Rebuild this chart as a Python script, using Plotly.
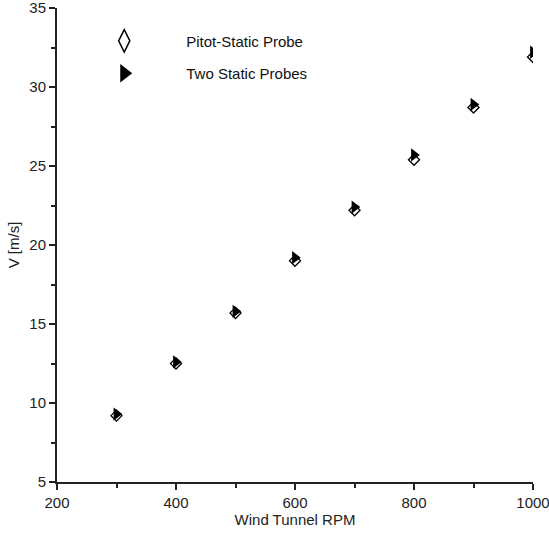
import plotly.graph_objects as go

# Wind tunnel speed calibration: velocity vs fan RPM
rpm = [300, 400, 500, 600, 700, 800, 900, 1000]
v_pitot = [9.2, 12.5, 15.7, 19.0, 22.2, 25.4, 28.7, 31.9]
v_static = [9.3, 12.6, 15.8, 19.2, 22.4, 25.7, 28.9, 32.2]

x_ticks = [200, 400, 600, 800, 1000]
y_ticks = [5, 10, 15, 20, 25, 30, 35]

font = "Liberation Sans, Arial, sans-serif"

fig = go.Figure()

fig.add_trace(go.Scatter(
    x=rpm, y=v_pitot, mode="markers", name="Pitot-Static Probe",
    marker=dict(symbol="diamond", size=8.5, color="white",
                line=dict(color="black", width=1.3)),
    showlegend=False,
))
fig.add_trace(go.Scatter(
    x=rpm, y=v_static, mode="markers", name="Two Static Probes",
    marker=dict(symbol="triangle-right", size=11.5, color="black",
                line=dict(color="black", width=0)),
    showlegend=False,
))

# legend entries with larger symbols
fig.add_trace(go.Scatter(
    x=[None], y=[None], mode="markers", name="Pitot-Static Probe",
    legendgroup="a",
    marker=dict(symbol="diamond-tall", size=16, color="white",
                line=dict(color="black", width=1.5)),
))
fig.add_trace(go.Scatter(
    x=[None], y=[None], mode="markers", name="Two Static Probes",
    legendgroup="b",
    marker=dict(symbol="triangle-right", size=16, color="black",
                line=dict(color="black", width=0)),
))

axis_common = dict(
    showline=True, linecolor="#222", linewidth=2,
    ticks="outside", ticklen=6, tickwidth=1.5, tickcolor="#222",
    showgrid=False, zeroline=False, mirror=False,
    ticklabeloverflow="allow", automargin=False,
    tickfont=dict(family=font, size=15, color="#222"),
    title_font=dict(family=font, size=15, color="#222"),
)

fig.update_xaxes(
    range=[200, 1000], tickvals=x_ticks, title_text="Wind Tunnel RPM",
    title_standoff=4,
    minor=dict(dtick=100, tick0=200, ticks="outside", ticklen=4,
               tickwidth=1.5, tickcolor="#222"),
    **axis_common,
)
fig.update_yaxes(
    range=[5, 35], tickvals=y_ticks, title_text="V [m/s]",
    title_standoff=6,
    minor=dict(dtick=2.5, tick0=5, ticks="outside", ticklen=4,
               tickwidth=1.5, tickcolor="#222"),
    **axis_common,
)

fig.update_layout(
    width=549, height=535,
    margin=dict(l=57, r=16, t=8, b=53),
    plot_bgcolor="white", paper_bgcolor="white",
    font=dict(family=font, size=15, color="#111"),
    legend=dict(
        x=0.011, y=0.965, xanchor="left", yanchor="top",
        bgcolor="rgba(0,0,0,0)", itemwidth=114,
        traceorder="grouped", tracegroupgap=10,
        font=dict(family=font, size=15, color="#111"),
    ),
)

fig.write_html("out.html")
